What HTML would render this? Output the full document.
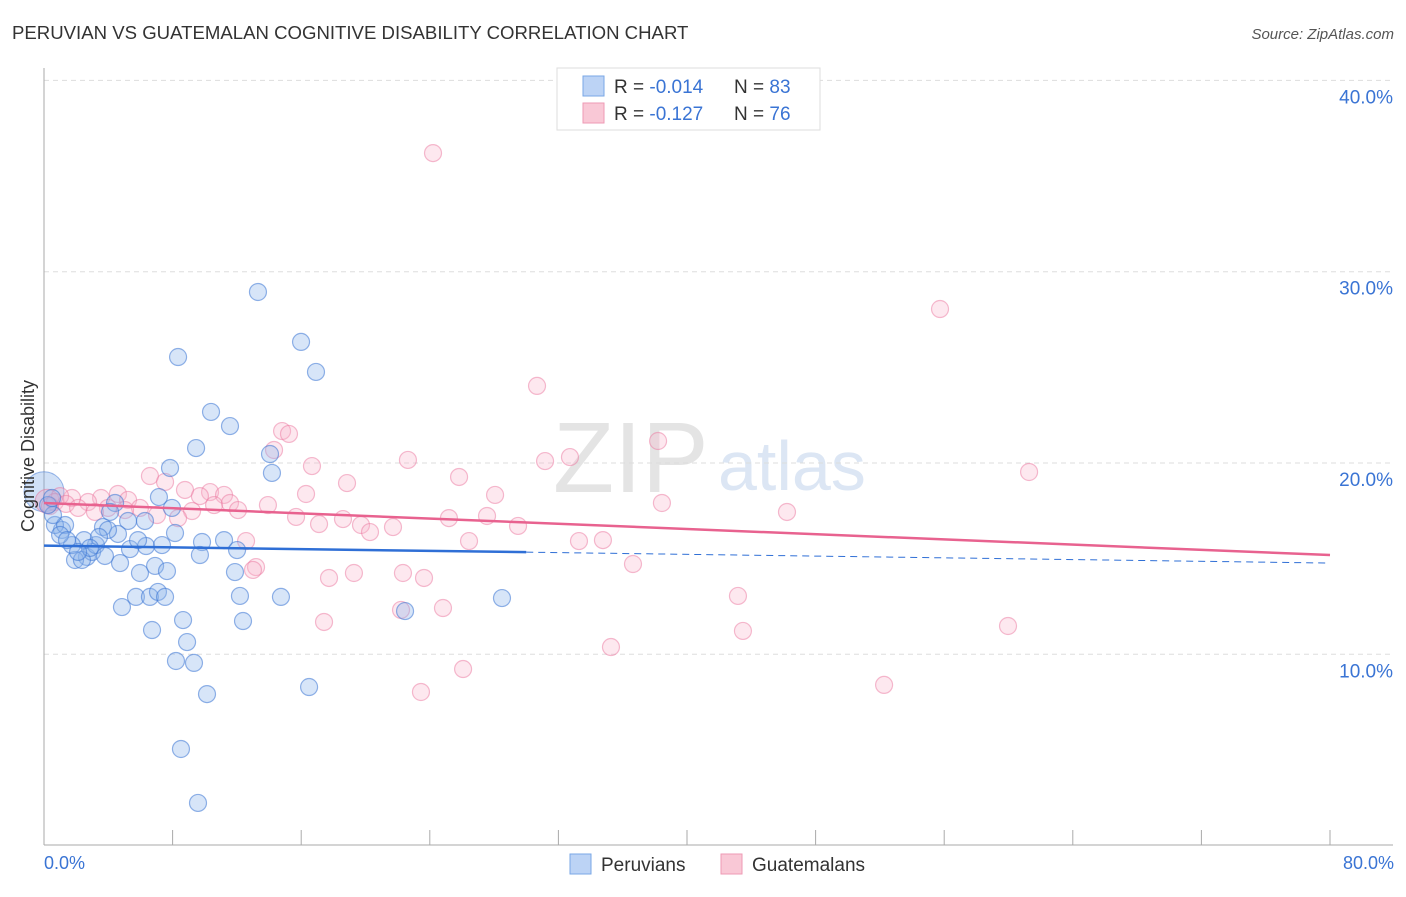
<!DOCTYPE html>
<html><head><meta charset="utf-8"><style>
body{margin:0;background:#fff;font-family:"Liberation Sans",sans-serif;}
svg text{font-family:"Liberation Sans",sans-serif;}
</style></head><body>
<svg id="chart" width="1406" height="892" xmlns="http://www.w3.org/2000/svg">
<text x="12" y="39" font-size="18.6" fill="#333">PERUVIAN VS GUATEMALAN COGNITIVE DISABILITY CORRELATION CHART</text>
<text x="1394" y="39" font-size="15" fill="#555" font-style="italic" text-anchor="end">Source: ZipAtlas.com</text>
<text x="553" y="492" font-size="100" fill="#e4e4e4" font-family="Liberation Serif">ZIP</text>
<text x="718" y="490" font-size="70" fill="#dce6f4">atlas</text>
<g id="grid"></g><g id="pts"></g><g id="lines"></g>
<text transform="translate(34,456) rotate(-90)" font-size="18" fill="#333" text-anchor="middle">Cognitive Disability</text>
<text x="44" y="869" font-size="18" fill="#3a74d4">0.0%</text>
<text x="1394" y="869" font-size="18" fill="#3a74d4" text-anchor="end">80.0%</text>
<g>
<rect x="557" y="68" width="263" height="62" fill="#fff" stroke="#ddd"/>
<rect x="583" y="76" width="21" height="20" fill="#bcd3f5" stroke="#7aa7e6"/>
<rect x="583" y="103" width="21" height="20" fill="#f9c8d6" stroke="#ee9ab4"/>
<text x="614" y="93" font-size="19" fill="#333">R = <tspan fill="#3a74d4">-0.014</tspan></text>
<text x="734" y="93" font-size="19" fill="#333">N = <tspan fill="#3a74d4">83</tspan></text>
<text x="614" y="120" font-size="19" fill="#333">R = <tspan fill="#3a74d4"> -0.127</tspan></text>
<text x="734" y="120" font-size="19" fill="#333">N = <tspan fill="#3a74d4">76</tspan></text>
</g>
<g>
<rect x="570" y="854" width="21" height="20" fill="#bcd3f5" stroke="#7aa7e6"/>
<text x="601" y="871" font-size="19" fill="#333">Peruvians</text>
<rect x="721" y="854" width="21" height="20" fill="#f9c8d6" stroke="#ee9ab4"/>
<text x="752" y="871" font-size="19" fill="#333">Guatemalans</text>
</g>
</svg>
<script>
const yTicks=[10,20,30,40];
const xTicks=[0,8,16,24,32,40,48,56,64,72,80];
const bluePx=[[258,292],[301,342],[316,372],[178,357],[211,412],[230,426],[196,448],[170,468],[270,454],[272,473],[159,497],[172,508],[128,521],[145,521],[115,503],[103,527],[118,534],[108,530],[146,546],[162,545],[175,533],[202,542],[224,540],[237,550],[200,555],[130,549],[120,563],[87,557],[92,552],[75,560],[82,560],[96,545],[84,540],[72,545],[62,530],[55,525],[65,525],[53,515],[48,505],[52,498],[60,535],[67,540],[105,556],[140,573],[155,566],[167,571],[235,572],[122,607],[136,597],[150,597],[158,592],[165,597],[240,596],[281,597],[152,630],[183,620],[187,642],[243,621],[176,661],[194,663],[207,694],[309,687],[181,749],[198,803],[405,611],[502,598],[99,537],[110,512],[138,540],[90,548],[78,552]];
const pinkPx=[[433,153],[940,309],[537,386],[658,441],[282,431],[289,434],[274,450],[312,466],[408,460],[459,477],[545,461],[570,457],[1029,472],[347,483],[150,476],[165,482],[185,490],[210,492],[224,495],[200,496],[306,494],[495,495],[662,503],[787,512],[268,505],[296,517],[319,524],[343,519],[361,525],[393,527],[449,518],[487,516],[518,526],[370,532],[118,494],[128,500],[101,498],[88,502],[72,498],[60,496],[55,502],[50,506],[66,504],[78,508],[108,508],[140,508],[157,515],[192,511],[214,505],[230,503],[238,510],[178,518],[246,541],[469,541],[579,541],[603,540],[633,564],[256,567],[253,570],[329,578],[354,573],[403,573],[424,578],[324,622],[401,610],[443,608],[738,596],[611,647],[743,631],[1008,626],[463,669],[421,692],[884,685],[95,512],[125,510]];
const blueX=bluePx.map(p=>+((p[0]-44)/16.075).toFixed(2));
const blueY=bluePx.map(p=>+((845.6-p[1])/19.13).toFixed(2));
const pinkX=pinkPx.map(p=>+((p[0]-44)/16.075).toFixed(2));
const pinkY=pinkPx.map(p=>+((845.6-p[1])/19.13).toFixed(2));
const blueTrend=[15.68,14.77];
const pinkTrend=[17.91,15.19];
const sx=v=>44+v*16.075, sy=v=>845.6-v*19.13;
const NS='http://www.w3.org/2000/svg';
function mk(t,a,parent){const e=document.createElementNS(NS,t);for(const k in a)e.setAttribute(k,a[k]);parent.appendChild(e);return e;}
const grid=document.getElementById('grid');
for(const t of yTicks){
 const l=mk('line',{x1:44,x2:1393,y1:sy(t),y2:sy(t),stroke:'#ddd','stroke-dasharray':'5,4'},grid);
 
 
 const tx=mk('text',{x:1393,y:sy(t)+23,'font-size':19,fill:'#3a74d4','text-anchor':'end'},grid);
 tx.textContent=t.toFixed(1)+'%';
 
 
}
const ax=mk('line',{x1:44,x2:44,y1:68,y2:845,stroke:'#aaa'},grid);


const bx=mk('line',{x1:44,x2:1393,y1:845,y2:845,stroke:'#aaa'},grid);


for(const t of xTicks){
 const l=mk('line',{x1:sx(t),x2:sx(t),y1:830,y2:845,stroke:'#aaa'},grid);
 
 
}
const pts=document.getElementById('pts');
const big1=mk('circle',{cx:sx(0),cy:sy(18.5),r:20,fill:'rgba(120,165,230,0.35)',stroke:'rgba(58,116,212,0.5)'},pts);


const big2=mk('circle',{cx:sx(0.2),cy:sy(18),r:12,fill:'rgba(245,160,190,0.35)',stroke:'rgba(230,110,150,0.5)'},pts);


pinkX.forEach((x,i)=>{const c=mk('circle',{cx:sx(x),cy:sy(pinkY[i]),r:8.5,fill:'rgba(248,180,202,0.3)',stroke:'rgba(235,120,160,0.5)','stroke-width':1.2},pts);
 
 });
blueX.forEach((x,i)=>{const c=mk('circle',{cx:sx(x),cy:sy(blueY[i]),r:8.5,fill:'rgba(140,180,235,0.35)',stroke:'rgba(58,116,212,0.55)','stroke-width':1.2},pts);
 
 });
const lines=document.getElementById('lines');
const bAt=x=>blueTrend[0]+(blueTrend[1]-blueTrend[0])*x/80;
const l1=mk('line',{x1:sx(0),y1:sy(bAt(0)),x2:sx(30),y2:sy(bAt(30)),stroke:'#2f6fd6','stroke-width':2.5},lines);


const l2=mk('line',{x1:sx(30),y1:sy(bAt(30)),x2:sx(80),y2:sy(bAt(80)),stroke:'#2f6fd6','stroke-width':1,'stroke-dasharray':'7,5'},lines);


const l3=mk('line',{x1:sx(0),y1:sy(pinkTrend[0]),x2:sx(80),y2:sy(pinkTrend[1]),stroke:'#e8628f','stroke-width':2.5},lines);


</script>
</body></html>
